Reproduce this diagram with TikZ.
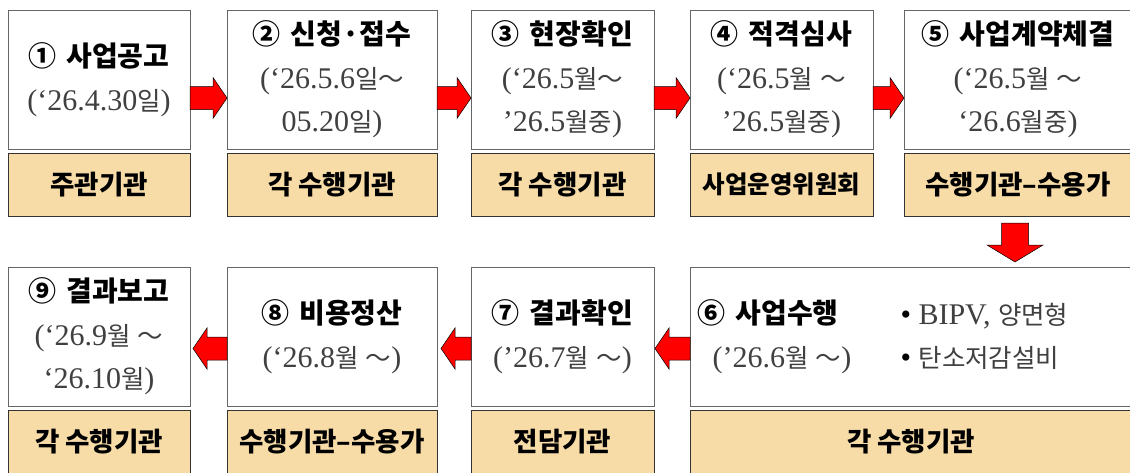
\documentclass[tikz,border=0pt]{standalone}
\usepackage{fontspec}
\setmainfont{Liberation Serif}
\newfontfamily\kr{Noto Sans CJK KR}
\newfontfamily\krs{Noto Sans CJK KR}[Scale=0.85]
\usepackage{xcolor}
\usetikzlibrary{calc}

\definecolor{orgfill}{RGB}{247,220,168}
\definecolor{datetext}{RGB}{64,64,64}
\newcommand\hg[1]{{\krs #1}}
\newcommand\wave{\hg{～}}
\newcommand\gap{\hspace{10pt}}
\newcommand\steptitle[1]{{\color{black}\kr\bfseries\fontsize{28}{43.5}\selectfont #1}}

\begin{document}
\begin{tikzpicture}[
        x=1pt, y=-1pt,
        stepbox/.style={draw=black!60, line width=0.9pt, fill=white, minimum height=139pt,
            inner sep=0pt, outer sep=0pt, align=center, text=datetext,
            font=\fontsize{30}{43.5}\selectfont},
        orgbox/.style={draw=black!80, line width=0.9pt, fill=orgfill, minimum height=63pt,
            inner sep=0pt, outer sep=0pt, font=\kr\bfseries\fontsize{26.5}{30}\selectfont},
        harrow/.style={draw=black, line width=0.5pt, fill=red,
            to path={let \p1=(\tikztostart), \p2=(\tikztotarget), \n1={sign(\x2-\x1)*14} in
                (\x1,{\y1+11.5pt}) -- ({\x2-\n1*1pt},{\y1+11.5pt}) -- ({\x2-\n1*1pt},{\y1+20.5pt})
                -- (\x2,\y1) -- ({\x2-\n1*1pt},{\y1-20.5pt}) -- ({\x2-\n1*1pt},{\y1-11.5pt})
                -- (\x1,{\y1-11.5pt}) -- cycle}},
        varrow/.style={draw=black, line width=0.5pt, fill=red,
            to path={let \p1=(\tikztostart), \p2=(\tikztotarget), \n1={sign(\y2-\y1)*17} in
                ({\x1-13.5pt},\y1) -- ({\x1-13.5pt},{\y2-\n1*1pt}) -- ({\x1-28pt},{\y2-\n1*1pt})
                -- (\x1,\y2) -- ({\x1+28pt},{\y2-\n1*1pt}) -- ({\x1+13.5pt},{\y2-\n1*1pt})
                -- ({\x1+13.5pt},\y1) -- cycle}}
    ]
    \useasboundingbox (0,0) rectangle (1130,472);
    \clip (0,0) rectangle (1130,472);

    % 노드 (윗줄)
    \node[stepbox, minimum width=182pt] (notice) at (99,79.5)
        {\steptitle{①\gap 사업공고}\\(‘26.4.30\hg{일})};
    \node[stepbox, minimum width=210pt] (apply) at (332,79.5)
        {\steptitle{②\gap 신청·접수}\\(‘26.5.6\hg{일}\wave\\05.20\hg{일})};
    \node[stepbox, minimum width=183pt] (visit) at (562.5,79.5)
        {\steptitle{③\gap 현장확인}\\(‘26.5\hg{월}\wave\\’26.5\hg{월중})};
    \node[stepbox, minimum width=183pt] (review) at (781.5,79.5)
        {\steptitle{④\gap 적격심사}\\(‘26.5\hg{월} \wave\\’26.5\hg{월중})};
    \node[stepbox, minimum width=228pt] (contract) at (1018,79.5)
        {\steptitle{⑤\gap 사업계약체결}\\(‘26.5\hg{월} \wave\\‘26.6\hg{월중})};

    \node[orgbox, minimum width=182pt] (noticeorg) at (99,184.5)     {주관기관};
    \node[orgbox, minimum width=210pt] (applyorg) at (332,184.5)     {각 수행기관};
    \node[orgbox, minimum width=183pt] (visitorg) at (562.5,184.5)   {각 수행기관};
    \node[orgbox, minimum width=183pt, font=\kr\bfseries\fontsize{24.5}{30}\selectfont]
        (revieworg) at (781.5,184.5) {사업운영위원회};
    \node[orgbox, minimum width=228pt] (contractorg) at (1018,184.5) {수행기관–수용가};

    % 노드 (아랫줄)
    \node[stepbox, minimum width=182pt] (report) at (99,336.5)
        {\steptitle{⑨\gap 결과보고}\\(‘26.9\hg{월} \wave\\‘26.10\hg{월})};
    \node[stepbox, minimum width=210pt] (settle) at (332,336.5)
        {\steptitle{⑧\gap 비용정산}\\(‘26.8\hg{월} \wave)};
    \node[stepbox, minimum width=183pt] (confirm) at (562.5,336.5)
        {\steptitle{⑦\gap 결과확인}\\(’26.7\hg{월} \wave)};
    \node[stepbox, minimum width=442pt] (perform) at (911,336.5) {};
    \node[anchor=west, align=left, text=datetext, font=\fontsize{30}{43.5}\selectfont]
        (performtext) at (694,336.5) {\steptitle{⑥\gap 사업수행}\\\hspace*{15pt}(’26.6\hg{월} \wave)};
    \node[anchor=west, align=left, text=datetext, font=\fontsize{30}{43.5}\selectfont]
        (performlist) at (897,336.5) {{\color{black}•}\ BIPV, \hg{양면형}\\{\color{black}•}\ \hg{탄소저감설비}};

    \node[orgbox, minimum width=182pt] (reportorg) at (99,441.5)    {각 수행기관};
    \node[orgbox, minimum width=210pt] (settleorg) at (332,441.5)   {수행기관–수용가};
    \node[orgbox, minimum width=183pt] (confirmorg) at (562.5,441.5) {전담기관};
    \node[orgbox, minimum width=442pt] (performorg) at (911,441.5)  {각 수행기관};

    % 화살표
    \draw[harrow] ([yshift=-18.5pt]notice.east) to ([yshift=-18.5pt]apply.west);
    \draw[harrow] ([yshift=-18.5pt]apply.east) to ([yshift=-18.5pt]visit.west);
    \draw[harrow] ([yshift=-18.5pt]visit.east) to ([yshift=-18.5pt]review.west);
    \draw[harrow] ([yshift=-18.5pt]review.east) to ([yshift=-18.5pt]contract.west);
    \coordinate (downend) at (contractorg.south |- perform.north);
    \draw[varrow] ([xshift=-3pt,yshift=-7pt]contractorg.south) to ([xshift=-3pt,yshift=5pt]downend);
    \draw[harrow] ([yshift=-12pt]perform.west) to ([xshift=1pt,yshift=-12pt]confirm.east);
    \draw[harrow] ([yshift=-12pt]confirm.west) to ([xshift=4pt,yshift=-12pt]settle.east);
    \draw[harrow] ([yshift=-12pt]settle.west) to ([xshift=3pt,yshift=-12pt]report.east);
\end{tikzpicture}
\end{document}
